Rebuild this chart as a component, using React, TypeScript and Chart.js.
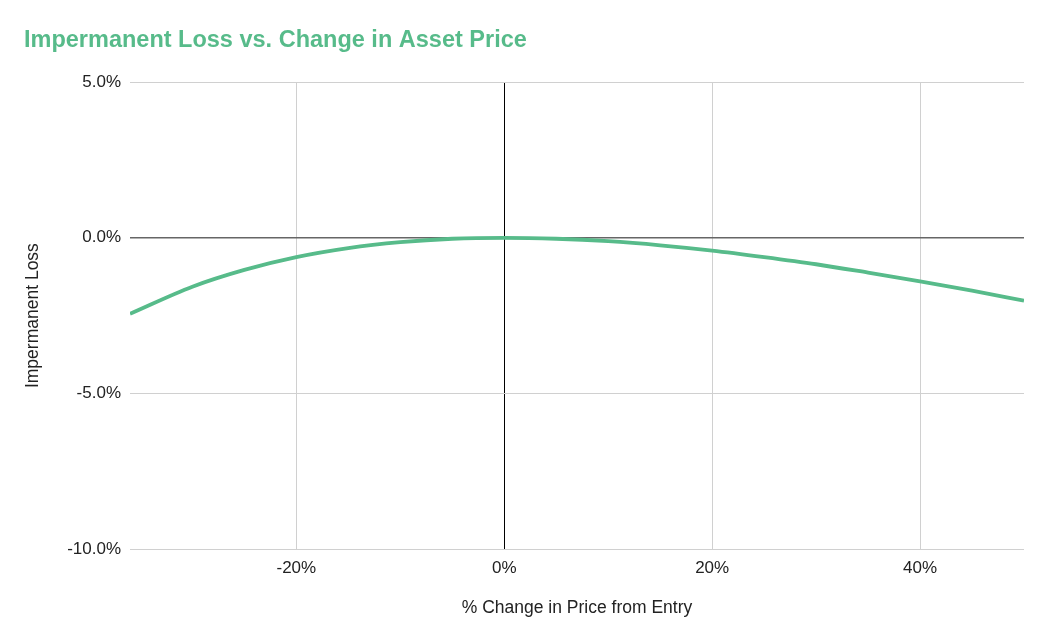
import React, { useEffect, useRef } from "react";
import { Chart, registerables } from "chart.js";

Chart.register(...registerables);

const titleText = "Impermanent Loss vs. Change in Asset Price";
const xAxisTitle = "% Change in Price from Entry";
const yAxisTitle = "Impermanent Loss";

// % change in price from entry
const priceChange = [-36, -30, -25, -20, -15, -10, -5, 0, 5, 10, 15, 20, 25, 30, 35, 40, 45, 50];
// impermanent loss in %
const impermanentLoss = [-2.44, -1.57, -1.03, -0.62, -0.33, -0.14, -0.03, 0, -0.03, -0.11, -0.24, -0.41, -0.62, -0.85, -1.12, -1.4, -1.7, -2.02];

const xTicks = [-20, 0, 20, 40];
const yTicks = [-10, -5, 0, 5];

const GREEN = "#57bb8a";
const FONT = "'Liberation Sans', Arial, sans-serif";

export default function App() {
  const ref = useRef<HTMLCanvasElement | null>(null);

  useEffect(() => {
    if (!ref.current) return;
    const chart = new Chart(ref.current, {
      type: "line",
      data: {
        datasets: [
          {
            data: priceChange.map((x, i) => ({ x, y: impermanentLoss[i] })),
            borderColor: GREEN,
            backgroundColor: GREEN,
            borderWidth: 3.8,
            pointRadius: 0,
            tension: 0.4,
            cubicInterpolationMode: "monotone",
          },
        ],
      },
      options: {
        responsive: false,
        animation: false,
        layout: { padding: { left: 24, right: 26, top: 0, bottom: 0 } },
        plugins: {
          legend: { display: false },
          tooltip: { enabled: false },
          title: {
            display: true,
            text: titleText,
            align: "start",
            color: GREEN,
            font: { family: FONT, size: 23.5, weight: "bold" },
            padding: { top: 26, bottom: 28 },
          },
        },
        scales: {
          x: {
            type: "linear",
            min: -36,
            max: 50,
            afterBuildTicks: (scale: any) => {
              scale.ticks = xTicks.map((v) => ({ value: v }));
            },
            afterFit: (scale: any) => {
              scale.height = 92;
            },
            border: { display: false },
            grid: {
              color: (ctx: any) => (ctx.tick && ctx.tick.value === 0 ? "#000000" : "#d0d0d0"),
              lineWidth: 1,
              drawTicks: false,
            },
            ticks: {
              color: "#222222",
              font: { family: FONT, size: 17 },
              padding: 9,
              callback: (v: any) => `${v}%`,
            },
            title: {
              display: true,
              text: xAxisTitle,
              color: "#222222",
              font: { family: FONT, size: 17.5 },
              padding: { top: 0, bottom: 22.5 },
            },
          },
          y: {
            type: "linear",
            min: -10,
            max: 5,
            afterBuildTicks: (scale: any) => {
              scale.ticks = yTicks.map((v) => ({ value: v }));
            },
            afterFit: (scale: any) => {
              scale.width = 106;
            },
            border: { display: false },
            grid: {
              color: (ctx: any) => (ctx.tick && ctx.tick.value === 0 ? "#666666" : "#d0d0d0"),
              lineWidth: (ctx: any) => (ctx.tick && ctx.tick.value === 0 ? 1.5 : 1),
              drawTicks: false,
            },
            ticks: {
              color: "#222222",
              font: { family: FONT, size: 17 },
              padding: 9,
              callback: (v: any) => `${Number(v).toFixed(1)}%`,
            },
            title: {
              display: true,
              text: yAxisTitle,
              color: "#222222",
              font: { family: FONT, size: 17.5, lineHeight: 1 },
              padding: { top: 0, bottom: 0 },
            },
          },
        },
      },
    });
    return () => chart.destroy();
  }, []);

  return (
    <div style={{ position: "absolute", left: 0, top: 0, width: 1050, height: 641, background: "#ffffff" }}>
      <canvas ref={ref} width={1050} height={641} />
    </div>
  );
}
